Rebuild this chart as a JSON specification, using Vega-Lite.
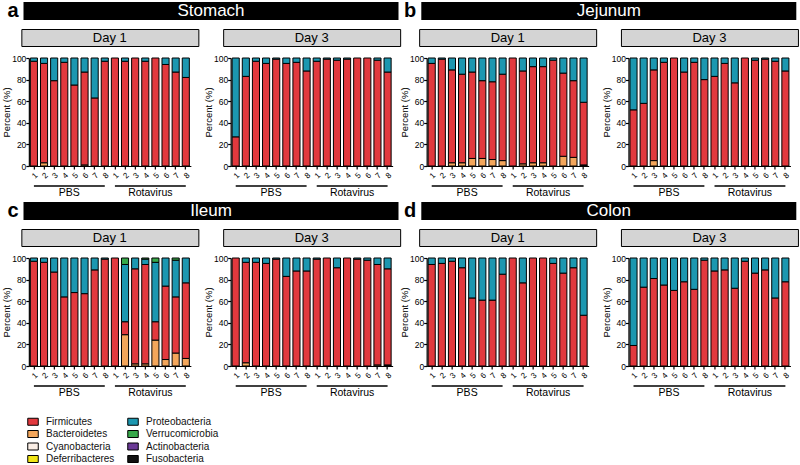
{
"$schema": "https://vega.github.io/schema/vega-lite/v6.json",
"padding": {"left": 1, "top": 1, "right": 2, "bottom": 0},
"data": {"values": [
{"t":"S","d":1,"s":"P1","Firmicutes":97,"Proteobacteria":3},
{"t":"S","d":1,"s":"P2","Bacteroidetes":3,"Firmicutes":92,"Proteobacteria":5},
{"t":"S","d":1,"s":"P3","Firmicutes":79,"Proteobacteria":21},
{"t":"S","d":1,"s":"P4","Firmicutes":96,"Proteobacteria":4},
{"t":"S","d":1,"s":"P5","Firmicutes":75,"Proteobacteria":25},
{"t":"S","d":1,"s":"P6","Bacteroidetes":1,"Firmicutes":86,"Proteobacteria":13},
{"t":"S","d":1,"s":"P7","Firmicutes":63,"Proteobacteria":37},
{"t":"S","d":1,"s":"P8","Firmicutes":97,"Proteobacteria":3},
{"t":"S","d":1,"s":"R1","Firmicutes":100},
{"t":"S","d":1,"s":"R2","Firmicutes":97,"Proteobacteria":3},
{"t":"S","d":1,"s":"R3","Firmicutes":100},
{"t":"S","d":1,"s":"R4","Firmicutes":97,"Proteobacteria":3},
{"t":"S","d":1,"s":"R5","Firmicutes":100},
{"t":"S","d":1,"s":"R6","Firmicutes":94,"Proteobacteria":6},
{"t":"S","d":1,"s":"R7","Firmicutes":87,"Proteobacteria":13},
{"t":"S","d":1,"s":"R8","Firmicutes":82,"Proteobacteria":18},
{"t":"S","d":3,"s":"P1","Firmicutes":27,"Proteobacteria":73},
{"t":"S","d":3,"s":"P2","Firmicutes":83,"Proteobacteria":17},
{"t":"S","d":3,"s":"P3","Firmicutes":97,"Proteobacteria":3},
{"t":"S","d":3,"s":"P4","Firmicutes":95,"Proteobacteria":5},
{"t":"S","d":3,"s":"P5","Firmicutes":99,"Proteobacteria":1},
{"t":"S","d":3,"s":"P6","Firmicutes":95,"Proteobacteria":5},
{"t":"S","d":3,"s":"P7","Firmicutes":96,"Proteobacteria":4},
{"t":"S","d":3,"s":"P8","Firmicutes":88,"Proteobacteria":12},
{"t":"S","d":3,"s":"R1","Firmicutes":97,"Proteobacteria":3},
{"t":"S","d":3,"s":"R2","Firmicutes":99,"Proteobacteria":1},
{"t":"S","d":3,"s":"R3","Firmicutes":98,"Proteobacteria":2},
{"t":"S","d":3,"s":"R4","Firmicutes":99,"Proteobacteria":1},
{"t":"S","d":3,"s":"R5","Firmicutes":100},
{"t":"S","d":3,"s":"R6","Firmicutes":100},
{"t":"S","d":3,"s":"R7","Firmicutes":98,"Proteobacteria":2},
{"t":"S","d":3,"s":"R8","Firmicutes":87,"Proteobacteria":13},
{"t":"J","d":1,"s":"P1","Firmicutes":95,"Proteobacteria":5},
{"t":"J","d":1,"s":"P2","Firmicutes":99,"Proteobacteria":1},
{"t":"J","d":1,"s":"P3","Bacteroidetes":3,"Firmicutes":86,"Proteobacteria":11},
{"t":"J","d":1,"s":"P4","Bacteroidetes":3,"Firmicutes":82,"Proteobacteria":15},
{"t":"J","d":1,"s":"P5","Bacteroidetes":7,"Firmicutes":80,"Proteobacteria":13},
{"t":"J","d":1,"s":"P6","Bacteroidetes":7,"Firmicutes":72,"Proteobacteria":21},
{"t":"J","d":1,"s":"P7","Bacteroidetes":6,"Firmicutes":72,"Proteobacteria":22},
{"t":"J","d":1,"s":"P8","Bacteroidetes":5,"Firmicutes":80,"Proteobacteria":15},
{"t":"J","d":1,"s":"R1","Firmicutes":100},
{"t":"J","d":1,"s":"R2","Bacteroidetes":2,"Firmicutes":86,"Proteobacteria":12},
{"t":"J","d":1,"s":"R3","Bacteroidetes":3,"Firmicutes":89,"Proteobacteria":8},
{"t":"J","d":1,"s":"R4","Bacteroidetes":3,"Firmicutes":89,"Proteobacteria":8},
{"t":"J","d":1,"s":"R5","Firmicutes":98,"Proteobacteria":2},
{"t":"J","d":1,"s":"R6","Bacteroidetes":9,"Firmicutes":77,"Proteobacteria":14},
{"t":"J","d":1,"s":"R7","Bacteroidetes":8,"Firmicutes":71,"Proteobacteria":21},
{"t":"J","d":1,"s":"R8","Fusobacteria":1,"Firmicutes":58,"Proteobacteria":41},
{"t":"J","d":3,"s":"P1","Firmicutes":52,"Proteobacteria":48},
{"t":"J","d":3,"s":"P2","Firmicutes":58,"Proteobacteria":42},
{"t":"J","d":3,"s":"P3","Bacteroidetes":5,"Firmicutes":84,"Proteobacteria":11},
{"t":"J","d":3,"s":"P4","Firmicutes":96,"Proteobacteria":4},
{"t":"J","d":3,"s":"P5","Firmicutes":100},
{"t":"J","d":3,"s":"P6","Firmicutes":87,"Proteobacteria":13},
{"t":"J","d":3,"s":"P7","Firmicutes":96,"Proteobacteria":4},
{"t":"J","d":3,"s":"P8","Firmicutes":80,"Proteobacteria":20},
{"t":"J","d":3,"s":"R1","Firmicutes":83,"Proteobacteria":17},
{"t":"J","d":3,"s":"R2","Firmicutes":95,"Proteobacteria":5},
{"t":"J","d":3,"s":"R3","Firmicutes":77,"Proteobacteria":23},
{"t":"J","d":3,"s":"R4","Firmicutes":100},
{"t":"J","d":3,"s":"R5","Firmicutes":98,"Proteobacteria":2},
{"t":"J","d":3,"s":"R6","Firmicutes":99,"Proteobacteria":1},
{"t":"J","d":3,"s":"R7","Firmicutes":97,"Proteobacteria":3},
{"t":"J","d":3,"s":"R8","Firmicutes":88,"Proteobacteria":12},
{"t":"I","d":1,"s":"P1","Firmicutes":97,"Proteobacteria":3},
{"t":"I","d":1,"s":"P2","Firmicutes":96,"Proteobacteria":4},
{"t":"I","d":1,"s":"P3","Firmicutes":87,"Proteobacteria":13},
{"t":"I","d":1,"s":"P4","Firmicutes":64,"Proteobacteria":36},
{"t":"I","d":1,"s":"P5","Firmicutes":68,"Proteobacteria":32},
{"t":"I","d":1,"s":"P6","Firmicutes":67,"Proteobacteria":33},
{"t":"I","d":1,"s":"P7","Firmicutes":89,"Proteobacteria":11},
{"t":"I","d":1,"s":"P8","Firmicutes":99,"Proteobacteria":1},
{"t":"I","d":1,"s":"R1","Firmicutes":100},
{"t":"I","d":1,"s":"R2","Bacteroidetes":29,"Firmicutes":12,"Proteobacteria":53,"Verrucomicrobia":6},
{"t":"I","d":1,"s":"R3","Bacteroidetes":2,"Firmicutes":88,"Proteobacteria":10},
{"t":"I","d":1,"s":"R4","Bacteroidetes":2,"Firmicutes":92,"Proteobacteria":5,"Verrucomicrobia":1},
{"t":"I","d":1,"s":"R5","Bacteroidetes":24,"Firmicutes":17,"Proteobacteria":55,"Verrucomicrobia":4},
{"t":"I","d":1,"s":"R6","Bacteroidetes":6,"Firmicutes":68,"Proteobacteria":26},
{"t":"I","d":1,"s":"R7","Bacteroidetes":12,"Firmicutes":52,"Proteobacteria":34,"Verrucomicrobia":2},
{"t":"I","d":1,"s":"R8","Bacteroidetes":7,"Firmicutes":70,"Proteobacteria":23},
{"t":"I","d":3,"s":"P1","Firmicutes":100},
{"t":"I","d":3,"s":"P2","Bacteroidetes":3,"Firmicutes":93,"Proteobacteria":4},
{"t":"I","d":3,"s":"P3","Firmicutes":96,"Proteobacteria":4},
{"t":"I","d":3,"s":"P4","Firmicutes":95,"Proteobacteria":5},
{"t":"I","d":3,"s":"P5","Firmicutes":99,"Proteobacteria":1},
{"t":"I","d":3,"s":"P6","Firmicutes":83,"Proteobacteria":17},
{"t":"I","d":3,"s":"P7","Firmicutes":88,"Proteobacteria":12},
{"t":"I","d":3,"s":"P8","Firmicutes":88,"Proteobacteria":12},
{"t":"I","d":3,"s":"R1","Firmicutes":99,"Proteobacteria":1},
{"t":"I","d":3,"s":"R2","Firmicutes":100},
{"t":"I","d":3,"s":"R3","Firmicutes":91,"Proteobacteria":9},
{"t":"I","d":3,"s":"R4","Firmicutes":100},
{"t":"I","d":3,"s":"R5","Firmicutes":99,"Proteobacteria":1},
{"t":"I","d":3,"s":"R6","Firmicutes":98,"Proteobacteria":2},
{"t":"I","d":3,"s":"R7","Bacteroidetes":1,"Firmicutes":93,"Proteobacteria":6},
{"t":"I","d":3,"s":"R8","Fusobacteria":1,"Firmicutes":89,"Proteobacteria":10},
{"t":"C","d":1,"s":"P1","Firmicutes":94,"Proteobacteria":6},
{"t":"C","d":1,"s":"P2","Firmicutes":95,"Proteobacteria":5},
{"t":"C","d":1,"s":"P3","Firmicutes":97,"Proteobacteria":3},
{"t":"C","d":1,"s":"P4","Firmicutes":91,"Proteobacteria":9},
{"t":"C","d":1,"s":"P5","Firmicutes":63,"Proteobacteria":37},
{"t":"C","d":1,"s":"P6","Firmicutes":61,"Proteobacteria":39},
{"t":"C","d":1,"s":"P7","Firmicutes":61,"Proteobacteria":39},
{"t":"C","d":1,"s":"P8","Firmicutes":85,"Proteobacteria":15},
{"t":"C","d":1,"s":"R1","Firmicutes":100},
{"t":"C","d":1,"s":"R2","Firmicutes":77,"Proteobacteria":23},
{"t":"C","d":1,"s":"R3","Firmicutes":100},
{"t":"C","d":1,"s":"R4","Firmicutes":100},
{"t":"C","d":1,"s":"R5","Firmicutes":95,"Proteobacteria":5},
{"t":"C","d":1,"s":"R6","Firmicutes":86,"Proteobacteria":14},
{"t":"C","d":1,"s":"R7","Firmicutes":91,"Proteobacteria":9},
{"t":"C","d":1,"s":"R8","Firmicutes":47,"Proteobacteria":53},
{"t":"C","d":3,"s":"P1","Firmicutes":19,"Proteobacteria":81},
{"t":"C","d":3,"s":"P2","Firmicutes":73,"Proteobacteria":27},
{"t":"C","d":3,"s":"P3","Firmicutes":81,"Proteobacteria":19},
{"t":"C","d":3,"s":"P4","Firmicutes":75,"Proteobacteria":25},
{"t":"C","d":3,"s":"P5","Firmicutes":70,"Proteobacteria":30},
{"t":"C","d":3,"s":"P6","Firmicutes":78,"Proteobacteria":22},
{"t":"C","d":3,"s":"P7","Firmicutes":71,"Proteobacteria":29},
{"t":"C","d":3,"s":"P8","Firmicutes":98,"Proteobacteria":2},
{"t":"C","d":3,"s":"R1","Firmicutes":88,"Proteobacteria":12},
{"t":"C","d":3,"s":"R2","Firmicutes":89,"Proteobacteria":11},
{"t":"C","d":3,"s":"R3","Firmicutes":72,"Proteobacteria":28},
{"t":"C","d":3,"s":"R4","Firmicutes":97,"Proteobacteria":3},
{"t":"C","d":3,"s":"R5","Firmicutes":86,"Proteobacteria":14},
{"t":"C","d":3,"s":"R6","Firmicutes":89,"Proteobacteria":11},
{"t":"C","d":3,"s":"R7","Firmicutes":63,"Proteobacteria":37},
{"t":"C","d":3,"s":"R8","Firmicutes":78,"Proteobacteria":22}
]},
"spacing": 2,
"vconcat": [
{"hconcat": [
 {"vconcat": [
  {"width":375,"height":18,"view":{"fill":"black","stroke":null},"data":{"values":[{"n":"Stomach"}]},"mark":{"type":"text","color":"white","fontSize":17},"encoding":{"text":{"field":"n","type":"nominal"}},"title":{"text":"a","orient":"left","angle":0,"align":"left","baseline":"middle","anchor":"middle","offset":5,"fontSize":20,"fontWeight":"bold","color":"black"}},
  {"hconcat": [
   {"vconcat": [
    {"width":177,"height":17,"view":{"fill":"#d4d4d4","stroke":"black","strokeWidth":1},"data":{"values":[{"n":"Day 1"}]},"mark":{"type":"text","fontSize":13,"color":"black"},"encoding":{"text":{"field":"n","type":"nominal"}}},
    {"width":162,"height":108,"transform":[{"filter":"datum.t=='S' && datum.d==1"},{"fold":["Fusobacteria","Bacteroidetes","Firmicutes","Proteobacteria","Verrucomicrobia"]},{"filter":"datum.value>0"},{"calculate":"indexof(['Fusobacteria','Bacteroidetes','Firmicutes','Proteobacteria','Verrucomicrobia'],datum.key)","as":"rank"}],
     "mark":{"type":"bar","stroke":"black","strokeWidth":1},
     "encoding":{
      "x":{"field":"s","type":"nominal","title":null,"scale":{"domain":["P1","P2","P3","P4","P5","P6","P7","P8","R1","R2","R3","R4","R5","R6","R7","R8"],"paddingInner":0.3,"paddingOuter":0.15}},
      "y":{"field":"value","type":"quantitative","stack":"zero","title":"Percent (%)","scale":{"domain":[0,100],"nice":false},"axis":{"values":[0,20,40,60,80,100]}},
      "color":{"field":"key","type":"nominal","legend":{"title":null},"scale":{"domain":["Firmicutes","Bacteroidetes","Cyanobacteria","Deferribacteres","Proteobacteria","Verrucomicrobia","Actinobacteria","Fusobacteria"],"range":["#E2393E","#F3A65B","#FBEFE6","#F1E517","#1C97B0","#37A84A","#6B3A96","#111111"]}},
      "order":{"field":"rank","type":"quantitative"}}},
    {"width":162,"height":16,"data":{"values":[{"g":"PBS","a":"P1","b":"P8","m":"P4"},{"g":"Rotavirus","a":"R1","b":"R8","m":"R4"}]},
     "layer":[
      {"mark":{"type":"rule","strokeWidth":1.5,"color":"black"},"encoding":{"x":{"field":"a","type":"nominal","axis":null,"scale":{"domain":["P1","P2","P3","P4","P5","P6","P7","P8","R1","R2","R3","R4","R5","R6","R7","R8"],"paddingInner":0.3,"paddingOuter":0.15}},"x2":{"field":"b"}}},
      {"mark":{"type":"text","baseline":"top","dy":2,"fontSize":10.5,"color":"black"},"encoding":{"x":{"field":"m","type":"nominal","bandPosition":1.21,"axis":null},"text":{"field":"g","type":"nominal"}}}]}
   ], "spacing": 12, "bounds": "flush", "center": true},
   {"vconcat": [
    {"width":177,"height":17,"view":{"fill":"#d4d4d4","stroke":"black","strokeWidth":1},"data":{"values":[{"n":"Day 3"}]},"mark":{"type":"text","fontSize":13,"color":"black"},"encoding":{"text":{"field":"n","type":"nominal"}}},
    {"width":162,"height":108,"transform":[{"filter":"datum.t=='S' && datum.d==3"},{"fold":["Fusobacteria","Bacteroidetes","Firmicutes","Proteobacteria","Verrucomicrobia"]},{"filter":"datum.value>0"},{"calculate":"indexof(['Fusobacteria','Bacteroidetes','Firmicutes','Proteobacteria','Verrucomicrobia'],datum.key)","as":"rank"}],
     "mark":{"type":"bar","stroke":"black","strokeWidth":1},
     "encoding":{
      "x":{"field":"s","type":"nominal","title":null,"scale":{"domain":["P1","P2","P3","P4","P5","P6","P7","P8","R1","R2","R3","R4","R5","R6","R7","R8"],"paddingInner":0.3,"paddingOuter":0.15}},
      "y":{"field":"value","type":"quantitative","stack":"zero","title":"Percent (%)","scale":{"domain":[0,100],"nice":false},"axis":{"values":[0,20,40,60,80,100]}},
      "color":{"field":"key","type":"nominal","legend":{"title":null},"scale":{"domain":["Firmicutes","Bacteroidetes","Cyanobacteria","Deferribacteres","Proteobacteria","Verrucomicrobia","Actinobacteria","Fusobacteria"],"range":["#E2393E","#F3A65B","#FBEFE6","#F1E517","#1C97B0","#37A84A","#6B3A96","#111111"]}},
      "order":{"field":"rank","type":"quantitative"}}},
    {"width":162,"height":16,"data":{"values":[{"g":"PBS","a":"P1","b":"P8","m":"P4"},{"g":"Rotavirus","a":"R1","b":"R8","m":"R4"}]},
     "layer":[
      {"mark":{"type":"rule","strokeWidth":1.5,"color":"black"},"encoding":{"x":{"field":"a","type":"nominal","axis":null,"scale":{"domain":["P1","P2","P3","P4","P5","P6","P7","P8","R1","R2","R3","R4","R5","R6","R7","R8"],"paddingInner":0.3,"paddingOuter":0.15}},"x2":{"field":"b"}}},
      {"mark":{"type":"text","baseline":"top","dy":2,"fontSize":10.5,"color":"black"},"encoding":{"x":{"field":"m","type":"nominal","bandPosition":1.21,"axis":null},"text":{"field":"g","type":"nominal"}}}]}
   ], "spacing": 12, "bounds": "flush", "center": true}
  ], "spacing": 3.8}
 ], "spacing": 7, "center": true},
 {"vconcat": [
  {"width":375,"height":18,"view":{"fill":"black","stroke":null},"data":{"values":[{"n":"Jejunum"}]},"mark":{"type":"text","color":"white","fontSize":17},"encoding":{"text":{"field":"n","type":"nominal"}},"title":{"text":"b","orient":"left","angle":0,"align":"left","baseline":"middle","anchor":"middle","offset":5,"fontSize":20,"fontWeight":"bold","color":"black"}},
  {"hconcat": [
   {"vconcat": [
    {"width":177,"height":17,"view":{"fill":"#d4d4d4","stroke":"black","strokeWidth":1},"data":{"values":[{"n":"Day 1"}]},"mark":{"type":"text","fontSize":13,"color":"black"},"encoding":{"text":{"field":"n","type":"nominal"}}},
    {"width":162,"height":108,"transform":[{"filter":"datum.t=='J' && datum.d==1"},{"fold":["Fusobacteria","Bacteroidetes","Firmicutes","Proteobacteria","Verrucomicrobia"]},{"filter":"datum.value>0"},{"calculate":"indexof(['Fusobacteria','Bacteroidetes','Firmicutes','Proteobacteria','Verrucomicrobia'],datum.key)","as":"rank"}],
     "mark":{"type":"bar","stroke":"black","strokeWidth":1},
     "encoding":{
      "x":{"field":"s","type":"nominal","title":null,"scale":{"domain":["P1","P2","P3","P4","P5","P6","P7","P8","R1","R2","R3","R4","R5","R6","R7","R8"],"paddingInner":0.3,"paddingOuter":0.15}},
      "y":{"field":"value","type":"quantitative","stack":"zero","title":"Percent (%)","scale":{"domain":[0,100],"nice":false},"axis":{"values":[0,20,40,60,80,100]}},
      "color":{"field":"key","type":"nominal","legend":{"title":null},"scale":{"domain":["Firmicutes","Bacteroidetes","Cyanobacteria","Deferribacteres","Proteobacteria","Verrucomicrobia","Actinobacteria","Fusobacteria"],"range":["#E2393E","#F3A65B","#FBEFE6","#F1E517","#1C97B0","#37A84A","#6B3A96","#111111"]}},
      "order":{"field":"rank","type":"quantitative"}}},
    {"width":162,"height":16,"data":{"values":[{"g":"PBS","a":"P1","b":"P8","m":"P4"},{"g":"Rotavirus","a":"R1","b":"R8","m":"R4"}]},
     "layer":[
      {"mark":{"type":"rule","strokeWidth":1.5,"color":"black"},"encoding":{"x":{"field":"a","type":"nominal","axis":null,"scale":{"domain":["P1","P2","P3","P4","P5","P6","P7","P8","R1","R2","R3","R4","R5","R6","R7","R8"],"paddingInner":0.3,"paddingOuter":0.15}},"x2":{"field":"b"}}},
      {"mark":{"type":"text","baseline":"top","dy":2,"fontSize":10.5,"color":"black"},"encoding":{"x":{"field":"m","type":"nominal","bandPosition":1.21,"axis":null},"text":{"field":"g","type":"nominal"}}}]}
   ], "spacing": 12, "bounds": "flush", "center": true},
   {"vconcat": [
    {"width":177,"height":17,"view":{"fill":"#d4d4d4","stroke":"black","strokeWidth":1},"data":{"values":[{"n":"Day 3"}]},"mark":{"type":"text","fontSize":13,"color":"black"},"encoding":{"text":{"field":"n","type":"nominal"}}},
    {"width":162,"height":108,"transform":[{"filter":"datum.t=='J' && datum.d==3"},{"fold":["Fusobacteria","Bacteroidetes","Firmicutes","Proteobacteria","Verrucomicrobia"]},{"filter":"datum.value>0"},{"calculate":"indexof(['Fusobacteria','Bacteroidetes','Firmicutes','Proteobacteria','Verrucomicrobia'],datum.key)","as":"rank"}],
     "mark":{"type":"bar","stroke":"black","strokeWidth":1},
     "encoding":{
      "x":{"field":"s","type":"nominal","title":null,"scale":{"domain":["P1","P2","P3","P4","P5","P6","P7","P8","R1","R2","R3","R4","R5","R6","R7","R8"],"paddingInner":0.3,"paddingOuter":0.15}},
      "y":{"field":"value","type":"quantitative","stack":"zero","title":"Percent (%)","scale":{"domain":[0,100],"nice":false},"axis":{"values":[0,20,40,60,80,100]}},
      "color":{"field":"key","type":"nominal","legend":{"title":null},"scale":{"domain":["Firmicutes","Bacteroidetes","Cyanobacteria","Deferribacteres","Proteobacteria","Verrucomicrobia","Actinobacteria","Fusobacteria"],"range":["#E2393E","#F3A65B","#FBEFE6","#F1E517","#1C97B0","#37A84A","#6B3A96","#111111"]}},
      "order":{"field":"rank","type":"quantitative"}}},
    {"width":162,"height":16,"data":{"values":[{"g":"PBS","a":"P1","b":"P8","m":"P4"},{"g":"Rotavirus","a":"R1","b":"R8","m":"R4"}]},
     "layer":[
      {"mark":{"type":"rule","strokeWidth":1.5,"color":"black"},"encoding":{"x":{"field":"a","type":"nominal","axis":null,"scale":{"domain":["P1","P2","P3","P4","P5","P6","P7","P8","R1","R2","R3","R4","R5","R6","R7","R8"],"paddingInner":0.3,"paddingOuter":0.15}},"x2":{"field":"b"}}},
      {"mark":{"type":"text","baseline":"top","dy":2,"fontSize":10.5,"color":"black"},"encoding":{"x":{"field":"m","type":"nominal","bandPosition":1.21,"axis":null},"text":{"field":"g","type":"nominal"}}}]}
   ], "spacing": 12, "bounds": "flush", "center": true}
  ], "spacing": 3.8}
 ], "spacing": 7, "center": true}
], "spacing": -2.2},
{"hconcat": [
 {"vconcat": [
  {"width":375,"height":18,"view":{"fill":"black","stroke":null},"data":{"values":[{"n":"Ileum"}]},"mark":{"type":"text","color":"white","fontSize":17},"encoding":{"text":{"field":"n","type":"nominal"}},"title":{"text":"c","orient":"left","angle":0,"align":"left","baseline":"middle","anchor":"middle","offset":5,"fontSize":20,"fontWeight":"bold","color":"black"}},
  {"hconcat": [
   {"vconcat": [
    {"width":177,"height":17,"view":{"fill":"#d4d4d4","stroke":"black","strokeWidth":1},"data":{"values":[{"n":"Day 1"}]},"mark":{"type":"text","fontSize":13,"color":"black"},"encoding":{"text":{"field":"n","type":"nominal"}}},
    {"width":162,"height":108,"transform":[{"filter":"datum.t=='I' && datum.d==1"},{"fold":["Fusobacteria","Bacteroidetes","Firmicutes","Proteobacteria","Verrucomicrobia"]},{"filter":"datum.value>0"},{"calculate":"indexof(['Fusobacteria','Bacteroidetes','Firmicutes','Proteobacteria','Verrucomicrobia'],datum.key)","as":"rank"}],
     "mark":{"type":"bar","stroke":"black","strokeWidth":1},
     "encoding":{
      "x":{"field":"s","type":"nominal","title":null,"scale":{"domain":["P1","P2","P3","P4","P5","P6","P7","P8","R1","R2","R3","R4","R5","R6","R7","R8"],"paddingInner":0.3,"paddingOuter":0.15}},
      "y":{"field":"value","type":"quantitative","stack":"zero","title":"Percent (%)","scale":{"domain":[0,100],"nice":false},"axis":{"values":[0,20,40,60,80,100]}},
      "color":{"field":"key","type":"nominal","legend":{"title":null},"scale":{"domain":["Firmicutes","Bacteroidetes","Cyanobacteria","Deferribacteres","Proteobacteria","Verrucomicrobia","Actinobacteria","Fusobacteria"],"range":["#E2393E","#F3A65B","#FBEFE6","#F1E517","#1C97B0","#37A84A","#6B3A96","#111111"]}},
      "order":{"field":"rank","type":"quantitative"}}},
    {"width":162,"height":16,"data":{"values":[{"g":"PBS","a":"P1","b":"P8","m":"P4"},{"g":"Rotavirus","a":"R1","b":"R8","m":"R4"}]},
     "layer":[
      {"mark":{"type":"rule","strokeWidth":1.5,"color":"black"},"encoding":{"x":{"field":"a","type":"nominal","axis":null,"scale":{"domain":["P1","P2","P3","P4","P5","P6","P7","P8","R1","R2","R3","R4","R5","R6","R7","R8"],"paddingInner":0.3,"paddingOuter":0.15}},"x2":{"field":"b"}}},
      {"mark":{"type":"text","baseline":"top","dy":2,"fontSize":10.5,"color":"black"},"encoding":{"x":{"field":"m","type":"nominal","bandPosition":1.21,"axis":null},"text":{"field":"g","type":"nominal"}}}]}
   ], "spacing": 12, "bounds": "flush", "center": true},
   {"vconcat": [
    {"width":177,"height":17,"view":{"fill":"#d4d4d4","stroke":"black","strokeWidth":1},"data":{"values":[{"n":"Day 3"}]},"mark":{"type":"text","fontSize":13,"color":"black"},"encoding":{"text":{"field":"n","type":"nominal"}}},
    {"width":162,"height":108,"transform":[{"filter":"datum.t=='I' && datum.d==3"},{"fold":["Fusobacteria","Bacteroidetes","Firmicutes","Proteobacteria","Verrucomicrobia"]},{"filter":"datum.value>0"},{"calculate":"indexof(['Fusobacteria','Bacteroidetes','Firmicutes','Proteobacteria','Verrucomicrobia'],datum.key)","as":"rank"}],
     "mark":{"type":"bar","stroke":"black","strokeWidth":1},
     "encoding":{
      "x":{"field":"s","type":"nominal","title":null,"scale":{"domain":["P1","P2","P3","P4","P5","P6","P7","P8","R1","R2","R3","R4","R5","R6","R7","R8"],"paddingInner":0.3,"paddingOuter":0.15}},
      "y":{"field":"value","type":"quantitative","stack":"zero","title":"Percent (%)","scale":{"domain":[0,100],"nice":false},"axis":{"values":[0,20,40,60,80,100]}},
      "color":{"field":"key","type":"nominal","legend":{"title":null},"scale":{"domain":["Firmicutes","Bacteroidetes","Cyanobacteria","Deferribacteres","Proteobacteria","Verrucomicrobia","Actinobacteria","Fusobacteria"],"range":["#E2393E","#F3A65B","#FBEFE6","#F1E517","#1C97B0","#37A84A","#6B3A96","#111111"]}},
      "order":{"field":"rank","type":"quantitative"}}},
    {"width":162,"height":16,"data":{"values":[{"g":"PBS","a":"P1","b":"P8","m":"P4"},{"g":"Rotavirus","a":"R1","b":"R8","m":"R4"}]},
     "layer":[
      {"mark":{"type":"rule","strokeWidth":1.5,"color":"black"},"encoding":{"x":{"field":"a","type":"nominal","axis":null,"scale":{"domain":["P1","P2","P3","P4","P5","P6","P7","P8","R1","R2","R3","R4","R5","R6","R7","R8"],"paddingInner":0.3,"paddingOuter":0.15}},"x2":{"field":"b"}}},
      {"mark":{"type":"text","baseline":"top","dy":2,"fontSize":10.5,"color":"black"},"encoding":{"x":{"field":"m","type":"nominal","bandPosition":1.21,"axis":null},"text":{"field":"g","type":"nominal"}}}]}
   ], "spacing": 12, "bounds": "flush", "center": true}
  ], "spacing": 3.8}
 ], "spacing": 7, "center": true},
 {"vconcat": [
  {"width":375,"height":18,"view":{"fill":"black","stroke":null},"data":{"values":[{"n":"Colon"}]},"mark":{"type":"text","color":"white","fontSize":17},"encoding":{"text":{"field":"n","type":"nominal"}},"title":{"text":"d","orient":"left","angle":0,"align":"left","baseline":"middle","anchor":"middle","offset":5,"fontSize":20,"fontWeight":"bold","color":"black"}},
  {"hconcat": [
   {"vconcat": [
    {"width":177,"height":17,"view":{"fill":"#d4d4d4","stroke":"black","strokeWidth":1},"data":{"values":[{"n":"Day 1"}]},"mark":{"type":"text","fontSize":13,"color":"black"},"encoding":{"text":{"field":"n","type":"nominal"}}},
    {"width":162,"height":108,"transform":[{"filter":"datum.t=='C' && datum.d==1"},{"fold":["Fusobacteria","Bacteroidetes","Firmicutes","Proteobacteria","Verrucomicrobia"]},{"filter":"datum.value>0"},{"calculate":"indexof(['Fusobacteria','Bacteroidetes','Firmicutes','Proteobacteria','Verrucomicrobia'],datum.key)","as":"rank"}],
     "mark":{"type":"bar","stroke":"black","strokeWidth":1},
     "encoding":{
      "x":{"field":"s","type":"nominal","title":null,"scale":{"domain":["P1","P2","P3","P4","P5","P6","P7","P8","R1","R2","R3","R4","R5","R6","R7","R8"],"paddingInner":0.3,"paddingOuter":0.15}},
      "y":{"field":"value","type":"quantitative","stack":"zero","title":"Percent (%)","scale":{"domain":[0,100],"nice":false},"axis":{"values":[0,20,40,60,80,100]}},
      "color":{"field":"key","type":"nominal","legend":{"title":null},"scale":{"domain":["Firmicutes","Bacteroidetes","Cyanobacteria","Deferribacteres","Proteobacteria","Verrucomicrobia","Actinobacteria","Fusobacteria"],"range":["#E2393E","#F3A65B","#FBEFE6","#F1E517","#1C97B0","#37A84A","#6B3A96","#111111"]}},
      "order":{"field":"rank","type":"quantitative"}}},
    {"width":162,"height":16,"data":{"values":[{"g":"PBS","a":"P1","b":"P8","m":"P4"},{"g":"Rotavirus","a":"R1","b":"R8","m":"R4"}]},
     "layer":[
      {"mark":{"type":"rule","strokeWidth":1.5,"color":"black"},"encoding":{"x":{"field":"a","type":"nominal","axis":null,"scale":{"domain":["P1","P2","P3","P4","P5","P6","P7","P8","R1","R2","R3","R4","R5","R6","R7","R8"],"paddingInner":0.3,"paddingOuter":0.15}},"x2":{"field":"b"}}},
      {"mark":{"type":"text","baseline":"top","dy":2,"fontSize":10.5,"color":"black"},"encoding":{"x":{"field":"m","type":"nominal","bandPosition":1.21,"axis":null},"text":{"field":"g","type":"nominal"}}}]}
   ], "spacing": 12, "bounds": "flush", "center": true},
   {"vconcat": [
    {"width":177,"height":17,"view":{"fill":"#d4d4d4","stroke":"black","strokeWidth":1},"data":{"values":[{"n":"Day 3"}]},"mark":{"type":"text","fontSize":13,"color":"black"},"encoding":{"text":{"field":"n","type":"nominal"}}},
    {"width":162,"height":108,"transform":[{"filter":"datum.t=='C' && datum.d==3"},{"fold":["Fusobacteria","Bacteroidetes","Firmicutes","Proteobacteria","Verrucomicrobia"]},{"filter":"datum.value>0"},{"calculate":"indexof(['Fusobacteria','Bacteroidetes','Firmicutes','Proteobacteria','Verrucomicrobia'],datum.key)","as":"rank"}],
     "mark":{"type":"bar","stroke":"black","strokeWidth":1},
     "encoding":{
      "x":{"field":"s","type":"nominal","title":null,"scale":{"domain":["P1","P2","P3","P4","P5","P6","P7","P8","R1","R2","R3","R4","R5","R6","R7","R8"],"paddingInner":0.3,"paddingOuter":0.15}},
      "y":{"field":"value","type":"quantitative","stack":"zero","title":"Percent (%)","scale":{"domain":[0,100],"nice":false},"axis":{"values":[0,20,40,60,80,100]}},
      "color":{"field":"key","type":"nominal","legend":{"title":null},"scale":{"domain":["Firmicutes","Bacteroidetes","Cyanobacteria","Deferribacteres","Proteobacteria","Verrucomicrobia","Actinobacteria","Fusobacteria"],"range":["#E2393E","#F3A65B","#FBEFE6","#F1E517","#1C97B0","#37A84A","#6B3A96","#111111"]}},
      "order":{"field":"rank","type":"quantitative"}}},
    {"width":162,"height":16,"data":{"values":[{"g":"PBS","a":"P1","b":"P8","m":"P4"},{"g":"Rotavirus","a":"R1","b":"R8","m":"R4"}]},
     "layer":[
      {"mark":{"type":"rule","strokeWidth":1.5,"color":"black"},"encoding":{"x":{"field":"a","type":"nominal","axis":null,"scale":{"domain":["P1","P2","P3","P4","P5","P6","P7","P8","R1","R2","R3","R4","R5","R6","R7","R8"],"paddingInner":0.3,"paddingOuter":0.15}},"x2":{"field":"b"}}},
      {"mark":{"type":"text","baseline":"top","dy":2,"fontSize":10.5,"color":"black"},"encoding":{"x":{"field":"m","type":"nominal","bandPosition":1.21,"axis":null},"text":{"field":"g","type":"nominal"}}}]}
   ], "spacing": 12, "bounds": "flush", "center": true}
  ], "spacing": 3.8}
 ], "spacing": 7, "center": true}
], "spacing": -2.2}
],
"config": {
 "font": "Liberation Sans",
 "view": {"stroke": null},
 "axis": {"domainColor": "black", "tickColor": "black", "labelColor": "black", "titleColor": "black", "grid": false, "tickSize": 3, "domainWidth": 1.2, "tickWidth": 1.2, "labelFontSize": 8.5, "titleFontSize": 9.5, "titleFontWeight": "normal"},
 "axisX": {"labelAngle": -45, "labelExpr": "substring(datum.value, 1)", "labelPadding": 2, "labelFontSize": 8},
 "axisY": {"labelPadding": 0, "titlePadding": 0},
 "legend": {"orient": "none", "legendX": 7, "legendY": 414.5, "columns": 2, "symbolType": "M-1.5,-1H1.5V1H-1.5Z", "symbolSize": 49, "symbolStrokeColor": "black", "symbolStrokeWidth": 1, "symbolFillOpacity": 1, "labelFontSize": 10, "labelColor": "#111", "labelOffset": 8, "columnPadding": 10, "rowPadding": 0.5, "padding": 0}
}
}
